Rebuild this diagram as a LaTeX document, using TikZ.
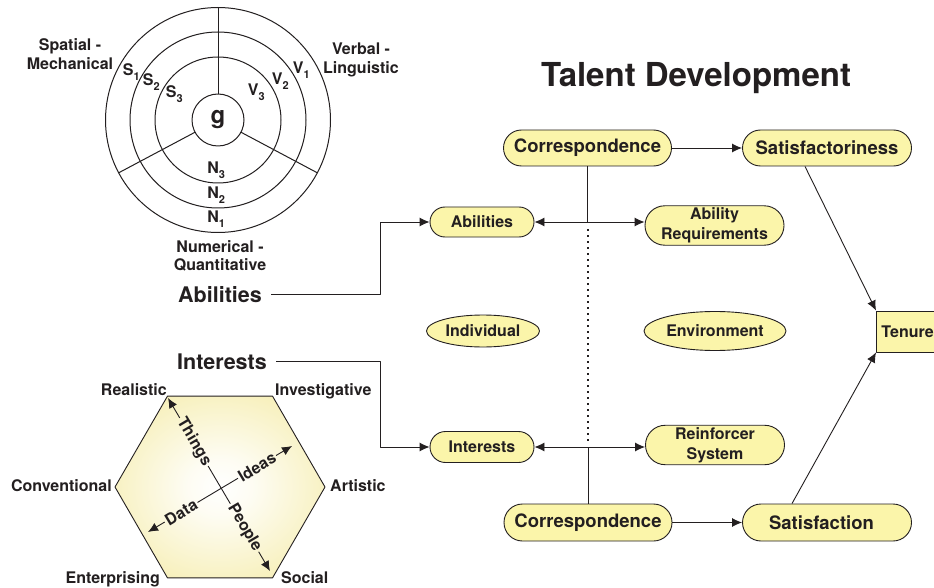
\documentclass[tikz,border=0pt]{standalone}
\usepackage{fontspec}
\setmainfont{TeX Gyre Heros}
\usetikzlibrary{arrows.meta,shapes.misc,shapes.geometric,calc}
\definecolor{ink}{RGB}{35,31,32}
\definecolor{pillc}{RGB}{251,245,170}
\definecolor{hexc}{RGB}{245,236,170}
\pgfdeclareradialshading{hexglow}{\pgfpoint{0bp}{0bp}}{color(0bp)=(white); color(8bp)=(white!85!hexc); color(34bp)=(hexc); color(50bp)=(hexc)}
\newcommand\tdfs[1]{\fontsize{#1}{#1}\selectfont\bfseries}
\newcommand\tdsub[2]{#1\raisebox{-5pt}{\fontsize{11}{11}\selectfont #2}}
\begin{document}
\begin{tikzpicture}[x=1pt,y=-1pt, line join=round,
  every node/.style={text=ink, font=\tdfs{16}},
  pill/.style={rounded rectangle, draw=ink, fill=pillc, line width=0.9pt, inner sep=2pt, align=center},
  oval/.style={ellipse, draw=ink, fill=pillc, line width=0.9pt, inner sep=0pt},
  conn/.style={draw=ink, line width=0.9pt},
  arr/.style={conn, -{Latex[length=10pt,width=9pt]}},
  arrb/.style={conn, {Latex[length=10pt,width=9pt]}-{Latex[length=10pt,width=9pt]}},
  ring/.style={draw=ink, line width=1pt},
  twoline/.style={align=center, font=\fontsize{16}{18.3}\selectfont\bfseries},
  subl/.style={inner sep=0pt, anchor=base west}
]
\useasboundingbox (0,0) rectangle (934,588);
\fill[white] (0,0) rectangle (934,588);

% ---- abilities circle ----
\coordinate (c) at (218,120);
\draw[ring] (c) circle[radius=112.5pt];
\draw[ring] (c) circle[radius=88pt];
\draw[ring] (c) circle[radius=63pt];
\draw[ring] (c) circle[radius=26pt];
\draw[ring] (218,7.5) -- (218,94);
\draw[ring] (240.96,132.21) -- (317.33,172.82);
\draw[ring] (195.04,132.21) -- (118.67,172.82);
\node[font=\tdfs{24}] (g) at (218,120) {g};
\node[twoline] (spat) at (70,54) {Spatial -\\Mechanical};
\node[twoline] (verb) at (361,60) {Verbal -\\Linguistic};
\node[twoline] (num) at (220,256) {Numerical -\\Quantitative};
\node[subl] (s1) at (122.7,75.8) {\tdsub{S}{1}};
\node[subl] (s2) at (142.7,85.8) {\tdsub{S}{2}};
\node[subl] (s3) at (165.7,97.8) {\tdsub{S}{3}};
\node[subl] (v1) at (292.7,73.8) {\tdsub{V}{1}};
\node[subl] (v2) at (271.7,84.8) {\tdsub{V}{2}};
\node[subl] (v3) at (247.7,95.8) {\tdsub{V}{3}};
\node[subl] (n3) at (207.2,173.8) {\tdsub{N}{3}};
\node[subl] (n2) at (207.2,198.8) {\tdsub{N}{2}};
\node[subl] (n1) at (207.2,222.8) {\tdsub{N}{1}};

% ---- big labels ----
\node[font=\tdfs{21.5}, anchor=base] (abilL) at (220,302) {Abilities};
\node[font=\tdfs{21.5}, anchor=base] (intL) at (222,369) {Interests};
\node[font=\tdfs{33}, anchor=base] (title) at (696,87) {Talent Development};

% ---- hexagon ----
\shadedraw[shading=hexglow, draw=ink, line width=0.9pt] (167.5,396.1) -- (272.5,396.1) -- (325,487) -- (272.5,577.9) -- (167.5,577.9) -- (115,487) -- cycle;
\node[anchor=base east, inner sep=1pt] (real) at (168,395) {Realistic};
\node[anchor=base west, inner sep=1pt] (inv) at (274,395) {Investigative};
\node[anchor=base east, inner sep=1pt] (conv) at (113,491) {Conventional};
\node[anchor=base west, inner sep=1pt] (art) at (329,491) {Artistic};
\node[anchor=base east, inner sep=1pt] (ent) at (161,583) {Enterprising};
\node[anchor=base west, inner sep=1pt] (soc) at (280,583) {Social};
\coordinate (tT) at (168,398);
\coordinate (tP) at (270,571);
\coordinate (tD) at (148,532);
\coordinate (tI) at (292,446);
\node[rotate=-59.5, inner sep=1.5pt] (things) at ($(tT)!0.254!(tP)$) {Things};
\node[rotate=-59.5, inner sep=1.5pt] (people) at ($(tT)!0.75!(tP)$) {People};
\node[rotate=30.8, inner sep=1.5pt] (data) at ($(tD)!0.23!(tI)$) {Data};
\node[rotate=30.8, inner sep=1.5pt] (ideas) at ($(tD)!0.757!(tI)$) {Ideas};
\draw[arr] (things) -- (tT);
\draw[conn] (things) -- (people);
\draw[arr] (people) -- (tP);
\draw[arr] (data) -- (tD);
\draw[conn] (data) -- (ideas);
\draw[arr] (ideas) -- (tI);

% ---- right side ----
\node[pill, font=\tdfs{18.5}, minimum width=172pt, minimum height=36pt] (corrT) at (587.5,148) {Correspondence};
\node[pill, font=\tdfs{18.5}, minimum width=173pt, minimum height=36pt] (satT) at (827,148) {Satisfactoriness};
\node[pill, minimum width=108pt, minimum height=30pt] (abilN) at (482,222) {Abilities};
\node[pill, font=\fontsize{16}{20}\selectfont\bfseries, minimum width=143pt, minimum height=39pt] (reqN) at (714.5,225.5) {Ability\\Requirements};
\node[oval, minimum width=113pt, minimum height=32pt] (indN) at (483,331) {Individual};
\node[oval, minimum width=142pt, minimum height=39pt] (envN) at (715,331) {Environment};
\node[draw=ink, fill=pillc, line width=0.9pt, anchor=west, inner xsep=5pt, minimum height=41pt] (tenN) at (876,331.5) {Tenure};
\node[pill, minimum width=108pt, minimum height=31pt] (intN) at (482,447) {Interests};
\node[pill, font=\fontsize{16}{20}\selectfont\bfseries, minimum width=143pt, minimum height=39pt] (reinN) at (715,445) {Reinforcer\\System};
\node[pill, font=\tdfs{18.5}, minimum width=172pt, minimum height=37pt] (corrB) at (588,522.5) {Correspondence};
\node[pill, font=\tdfs{18.5}, minimum width=173pt, minimum height=37pt] (satB) at (827,522.5) {\hspace*{-11pt}Satisfaction};

\coordinate (kA) at (380,222);
\coordinate (kI) at (380,447);
\draw[arr] ([xshift=6pt]abilL.east) -| (kA) -- (abilN.west);
\draw[arr] ([xshift=6pt]intL.east) -| (kI) -- (intN.west);

\draw[arr] (corrT.east) -- (satT.west);
\draw[arr] (corrB.east) -- (satB.west);
\draw[conn] (corrT.south) -- (corrT.south |- abilN.east);
\draw[arrb] (abilN.east) -- (abilN.east -| reqN.west);
\draw[conn] (corrB.north) -- (corrB.north |- intN.east);
\draw[arrb] (intN.east) -- (intN.east -| reinN.west);
\coordinate (d1) at (588,229);
\coordinate (d2) at (588,441);
\draw[draw=ink, line width=1.5pt, dash pattern=on 1.6pt off 4.4pt] (d1) -- (d2);

\draw[arr] ([xshift=-22pt]satT.south) -- (tenN.north west);
\draw[arr] ([xshift=-35pt]satB.north) -- (tenN.south west);
\end{tikzpicture}
\end{document}
